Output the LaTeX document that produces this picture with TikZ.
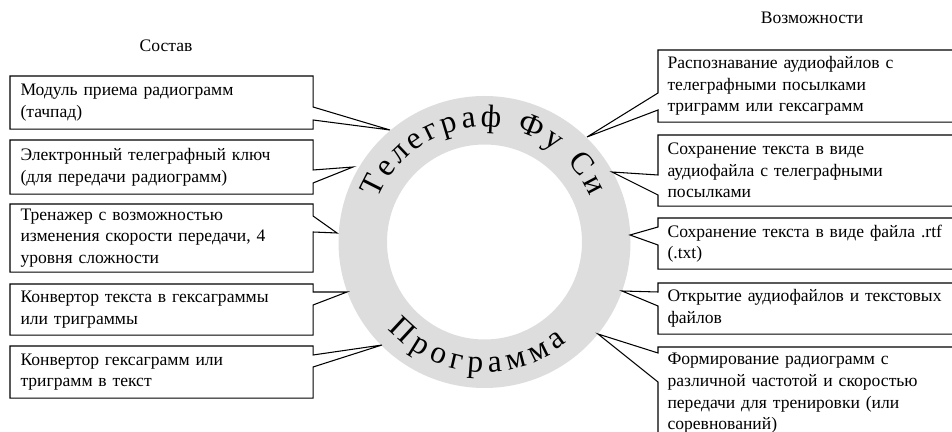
\documentclass[tikz,border=0pt]{standalone}
\usepackage{fontspec}
\setmainfont{Liberation Serif}
\usetikzlibrary{decorations.text}
\definecolor{ringgray}{RGB}{221,221,221}
\newcommand{\ringfont}{\fontsize{18}{18}\selectfont}

\begin{document}
\begin{tikzpicture}[
		lbox/.style={anchor=north west, text width=5.64cm, inner xsep=0.2cm, inner ysep=0pt, align=left},
		rbox/.style={anchor=north west, text width=7cm, inner xsep=0.18cm, inner ysep=0pt, align=left},
		every node/.style={font=\fontsize{10}{12.3}\selectfont},
		semithick]
		\useasboundingbox (0,0) rectangle (19.04,-8.64);
		
		\coordinate (c) at (9.69,-4.84);
		\fill[ringgray, even odd rule] (c) circle (2.92) (c) circle (1.95);
		\path[decorate, decoration={text along path, text={|\ringfont|Телеграф Фу Си}, text align={fit to path}}] (c) ++(158:2.3) arc[start angle=158, end angle=23.5, radius=2.3];
		\path[decorate, decoration={text along path, text={|\ringfont|Программа}, text align={fit to path}}] (c) ++(222.2:2.6) arc[start angle=222.2, end angle=309.4, radius=2.6];
		
		\node at (3.32,-0.92) (sostav) {Состав};
		\node at (16.24,-0.36) (vozm) {Возможности};
		
		\node[lbox, minimum height=1.04cm] at (0.2,-1.52) (m1) {Модуль приема радиограмм\\(тачпад)};
		\coordinate (t1) at (7.8,-2.6);
		\draw (m1.north west) -- (m1.north east) -- ([yshift=-0.62cm]m1.north east) -- (t1) -- ([yshift=-0.88cm]m1.north east) -- (m1.south east) -- (m1.south west) -- cycle;
		
		\node[lbox, minimum height=1.06cm] at (0.2,-2.8) (m2) {Электронный телеграфный ключ\\(для передачи радиограмм)};
		\coordinate (t2) at (7.06,-3.34);
		\draw (m2.north west) -- (m2.north east) -- ([yshift=-0.6cm]m2.north east) -- (t2) -- ([yshift=-0.86cm]m2.north east) -- (m2.south east) -- (m2.south west) -- cycle;
		
		\node[lbox, minimum height=1.34cm] at (0.2,-4.08) (m3) {Тренажер с возможностью\\изменения скорости передачи, 4\\уровня сложности};
		\coordinate (t3) at (6.74,-4.66);
		\draw (m3.north west) -- (m3.north east) -- ([yshift=-0.24cm]m3.north east) -- (t3) -- ([yshift=-0.56cm]m3.north east) -- (m3.south east) -- (m3.south west) -- cycle;
		
		\node[lbox, minimum height=1cm] at (0.2,-5.68) (m4) {Конвертор текста в гексаграммы\\или триграммы};
		\coordinate (t4) at (6.94,-5.84);
		\draw (m4.north west) -- (m4.north east) -- ([yshift=-0.16cm]m4.north east) -- (t4) -- ([yshift=-0.42cm]m4.north east) -- (m4.south east) -- (m4.south west) -- cycle;
		
		\node[lbox, minimum height=1.02cm] at (0.2,-6.92) (m5) {Конвертор гексаграмм или\\триграмм в текст};
		\coordinate (t5) at (7.64,-6.9);
		\draw (m5.north west) -- (m5.north east) -- ([yshift=-0.18cm]m5.north east) -- (t5) -- ([yshift=-0.42cm]m5.north east) -- (m5.south east) -- (m5.south west) -- cycle;
		
		\node[rbox, minimum height=1.42cm] at (13.16,-1) (v1) {Распознавание аудиофайлов с\\телеграфными посылками\\триграмм или гексаграмм};
		\coordinate (s1) at (11.74,-2.74);
		\draw (v1.north east) -- (v1.north west) -- ([yshift=-0.86cm]v1.north west) -- (s1) -- ([yshift=-1.2cm]v1.north west) -- (v1.south west) -- (v1.south east);
		
		\node[rbox, minimum height=1.4cm] at (13.16,-2.7) (v2) {Сохранение текста в виде\\аудиофайла с телеграфными\\посылками};
		\coordinate (s2) at (12.24,-3.44);
		\draw (v2.north east) -- (v2.north west) -- ([yshift=-0.8cm]v2.north west) -- (s2) -- ([yshift=-1.2cm]v2.north west) -- (v2.south west) -- (v2.south east);
		
		\node[rbox, minimum height=1cm] at (13.16,-4.36) (v3) {Сохранение текста в виде файла .rtf\\(.txt)};
		\coordinate (s3) at (12.6,-4.7);
		\draw (v3.north east) -- (v3.north west) -- ([yshift=-0.18cm]v3.north west) -- (s3) -- ([yshift=-0.54cm]v3.north west) -- (v3.south west) -- (v3.south east);
		
		\node[rbox, minimum height=1cm] at (13.16,-5.66) (v4) {Открытие аудиофайлов и текстовых\\файлов};
		\coordinate (s4) at (12.44,-5.82);
		\draw (v4.north east) -- (v4.north west) -- ([yshift=-0.18cm]v4.north west) -- (s4) -- ([yshift=-0.46cm]v4.north west) -- (v4.south west) -- (v4.south east);
		
		\node[rbox, minimum height=1.84cm] at (13.16,-6.94) (v5) {Формирование радиограмм с\\различной частотой и скоростью\\передачи для тренировки (или\\соревнований)};
		\coordinate (s5) at (11.96,-6.68);
		\draw (v5.north east) -- (v5.north west) -- ([yshift=-0.12cm]v5.north west) -- (s5) -- ([yshift=-0.7cm]v5.north west) -- (v5.south west) -- (v5.south east);
	\end{tikzpicture}
\end{document}
